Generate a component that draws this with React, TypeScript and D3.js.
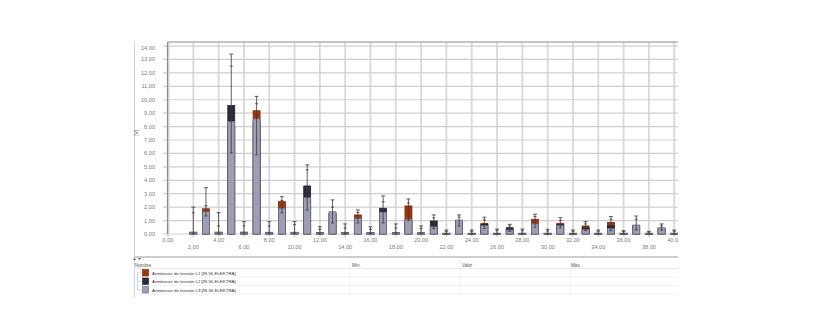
import React from "react";
import * as d3 from "d3";

const harmonics = [2,3,4,5,6,7,8,9,10,11,12,13,14,15,16,17,18,19,20,21,22,23,24,25,26,27,28,29,30,31,32,33,34,35,36,37,38,39,40];
const l1Values = [0.08,1.88,0.08,8.0,0.08,9.18,0.08,2.41,0.08,2.5,0.06,1.5,0.06,1.42,0.06,1.5,0.06,2.09,0.05,0.5,0.03,0.95,0.03,0.8,0.03,0.28,0.03,1.1,0.03,0.8,0.03,0.6,0.03,0.87,0.03,0.6,0.03,0.4,0.03];
const l2Values = [0.14,1.6,0.14,9.57,0.14,8.3,0.13,1.8,0.13,3.58,0.1,1.55,0.1,1.1,0.1,1.92,0.1,1.0,0.09,0.97,0.06,0.98,0.06,0.72,0.06,0.47,0.06,0.7,0.06,0.68,0.06,0.45,0.06,0.6,0.06,0.62,0.06,0.42,0.06];
const l3Values = [0.12,1.66,0.12,8.38,0.12,8.58,0.11,1.92,0.11,2.71,0.09,1.66,0.09,1.17,0.09,1.62,0.09,1.1,0.08,0.54,0.05,1.04,0.05,0.62,0.05,0.3,0.05,0.75,0.05,0.62,0.05,0.35,0.05,0.42,0.05,0.67,0.05,0.47,0.05];
const maxTop = [2.0,3.45,1.59,13.4,0.92,10.25,0.92,2.78,0.92,5.15,0.54,2.54,0.75,1.79,0.54,2.84,0.75,2.61,0.6,1.42,0.3,1.42,0.3,1.25,0.37,0.72,0.37,1.47,0.35,1.22,0.3,0.92,0.3,1.3,0.25,1.34,0.2,0.75,0.3];
const maxCap = [1.57,2.1,0.6,12.5,0.6,9.7,0.6,2.5,0.7,4.78,0.35,2.0,0.45,1.6,0.35,2.4,0.45,2.3,0.4,1.2,0.2,1.25,0.2,1.05,0.25,0.6,0.25,1.3,0.22,1.0,0.2,0.75,0.2,1.1,0.18,1.1,0.15,0.6,0.2];
const minValues = [0.05,1.34,0.05,6.04,0.05,5.9,0.05,1.57,0.05,1.79,0.03,0.82,0.03,0.82,0.03,0.82,0.03,1.0,0.03,0.4,0.02,0.6,0.02,0.4,0.02,0.2,0.02,0.5,0.02,0.45,0.02,0.25,0.02,0.25,0.02,0.3,0.02,0.3,0.02];

const yTicks = [0,1,2,3,4,5,6,7,8,9,10,11,12,13,14];
const xTicks = [0,2,4,6,8,10,12,14,16,18,20,22,24,26,28,30,32,34,36,38,40];
const seriesNames = [
  "Armónicos de tensión L1 [IN 56 ELEKTRA]",
  "Armónicos de tensión L2 [IN 56 ELEKTRA]",
  "Armónicos de tensión L3 [IN 56 ELEKTRA]",
];
const columnHeaders = ["Nombre", "Mín.", "Valor", "Máx."];
const seriesColors = ["#9e3512", "#2a2c3c", "#9d9db4"];
const seriesStrokes = ["#6e2409", "#1a1b26", "#6c6c84"];

const fmt = (v: number) => v.toFixed(2).replace(".", ",");

export default function App() {
  const left = 168, right = 678, top = 42, bottom = 234;
  const x = d3.scaleLinear().domain([0, 40.3]).range([left, right]);
  const y = d3.scaleLinear().domain([0, 14.3]).range([bottom, top]);
  const barW = 7;
  const font = "'Liberation Sans', Arial, sans-serif";
  const series = [l1Values, l2Values, l3Values];

  const tableTop = 257;
  const rowY = [273, 281.5, 290];
  const colX = [135, 352, 462, 571];

  return (
    <svg width={825} height={327} style={{ position: "absolute", left: 0, top: 0, background: "#fff" }}>
      <defs>
        <clipPath id="chartClip">
          <rect x={120} y={30} width={right - 120} height={226} />
        </clipPath>
      </defs>
      {/* panel left line */}
      <line x1={134.5} x2={134.5} y1={41} y2={298} stroke="#c9d3de" strokeWidth={1} />
      <g clipPath="url(#chartClip)">
        {/* vertical grid */}
        {xTicks.map((t) => (
          <line key={"vg" + t} x1={x(t)} x2={x(t)} y1={top} y2={bottom + 3} stroke="#d9d9d9" strokeWidth={1.8} />
        ))}
        {/* horizontal grid */}
        {yTicks.map((t) => (
          <line key={"hg" + t} x1={left - 5} x2={right} y1={y(t)} y2={y(t)} stroke="#cfcfcf" strokeWidth={1.2} />
        ))}
        {/* frame */}
        <line x1={left - 0.5} x2={right} y1={top} y2={top} stroke="#8c8c8c" strokeWidth={1.2} />
        <line x1={left - 0.5} x2={left - 0.5} y1={top} y2={bottom} stroke="#8c8c8c" strokeWidth={1.2} />
        <line x1={left + 1} x2={left + 1} y1={top} y2={bottom} stroke="#d0d0d0" strokeWidth={1} />
        {/* y labels */}
        {yTicks.map((t) => (
          <text key={"yl" + t} x={155} y={y(t) + (t === 14 ? 4 : 2)} fontSize={5.6} fill="#7a7a7a" textAnchor="end" fontFamily={font}>
            {fmt(t)}
          </text>
        ))}
        <text transform={`translate(138,133) rotate(-90)`} fontSize={5.6} fill="#7a7a7a" textAnchor="middle" fontFamily={font}>[V]</text>
        {/* x labels */}
        {xTicks.map((t, i) => (
          <text key={"xl" + t} x={x(t)} y={i % 2 === 0 ? 242 : 249} fontSize={5.6} fill="#7a7a7a" textAnchor="middle" fontFamily={font}>
            {fmt(t)}
          </text>
        ))}
        {/* bars */}
        {harmonics.map((h, i) => (
          <g key={"b" + h}>
            {series.map((s, k) => (
              <rect
                key={k}
                x={x(h) - barW / 2}
                y={y(s[i])}
                width={barW}
                height={Math.max(0.6, y(0) - y(s[i]))}
                fill={seriesColors[k]}
                stroke={seriesStrokes[k]}
                strokeWidth={0.7}
              />
            ))}
            <line x1={x(h)} x2={x(h)} y1={y(maxTop[i])} y2={y(minValues[i])} stroke="#3a3a3a" strokeWidth={0.8} />
            <line x1={x(h) - 2} x2={x(h) + 2} y1={y(maxTop[i])} y2={y(maxTop[i])} stroke="#3a3a3a" strokeWidth={0.8} />
            <line x1={x(h) - 1.5} x2={x(h) + 1.5} y1={y(maxCap[i])} y2={y(maxCap[i])} stroke="#3a3a3a" strokeWidth={0.8} />
            <line x1={x(h) - 1.5} x2={x(h) + 1.5} y1={y(minValues[i])} y2={y(minValues[i])} stroke="#3a3a3a" strokeWidth={0.8} />
          </g>
        ))}
      </g>
      {/* table */}
      <line x1={134} x2={678} y1={tableTop} y2={tableTop} stroke="#bdbdbd" strokeWidth={1.6} />
      <path d="M133,260 l1.5,-2 l1.5,2 z M138,258 l1.5,2 l1.5,-2 z" fill="#555" />
      {columnHeaders.map((c, i) => (
        <text key={"ch" + i} x={colX[i]} y={267} fontSize={4.6} fill="#555" fontFamily={font}>{c}</text>
      ))}
      <line x1={134} x2={678} y1={268.5} y2={268.5} stroke="#e3e3e3" strokeWidth={0.8} />
      {rowY.map((ry, i) => (
        <line key={"rl" + i} x1={134} x2={678} y1={ry + 4} y2={ry + 4} stroke="#ececec" strokeWidth={0.8} />
      ))}
      {[350, 460, 570].map((cx) => (
        <line key={"cl" + cx} x1={cx} x2={cx} y1={260} y2={294.5} stroke="#ececec" strokeWidth={0.8} />
      ))}
      <path d={`M137.5,${rowY[0] - 1} V${rowY[2]} M137.5,${rowY[0]} H142 M137.5,${rowY[1]} H142 M137.5,${rowY[2]} H142`} stroke="#c8c8c8" strokeWidth={0.7} fill="none" />
      {seriesNames.map((n, i) => (
        <g key={"lg" + i}>
          <rect x={142.5} y={rowY[i] - 3.5} width={6} height={6.5} fill={seriesColors[i]} stroke={seriesStrokes[i]} strokeWidth={0.6} />
          <text x={152} y={rowY[i] + 1.5} fontSize={4.4} fill="#333" fontFamily={font}>{n}</text>
        </g>
      ))}
    </svg>
  );
}
